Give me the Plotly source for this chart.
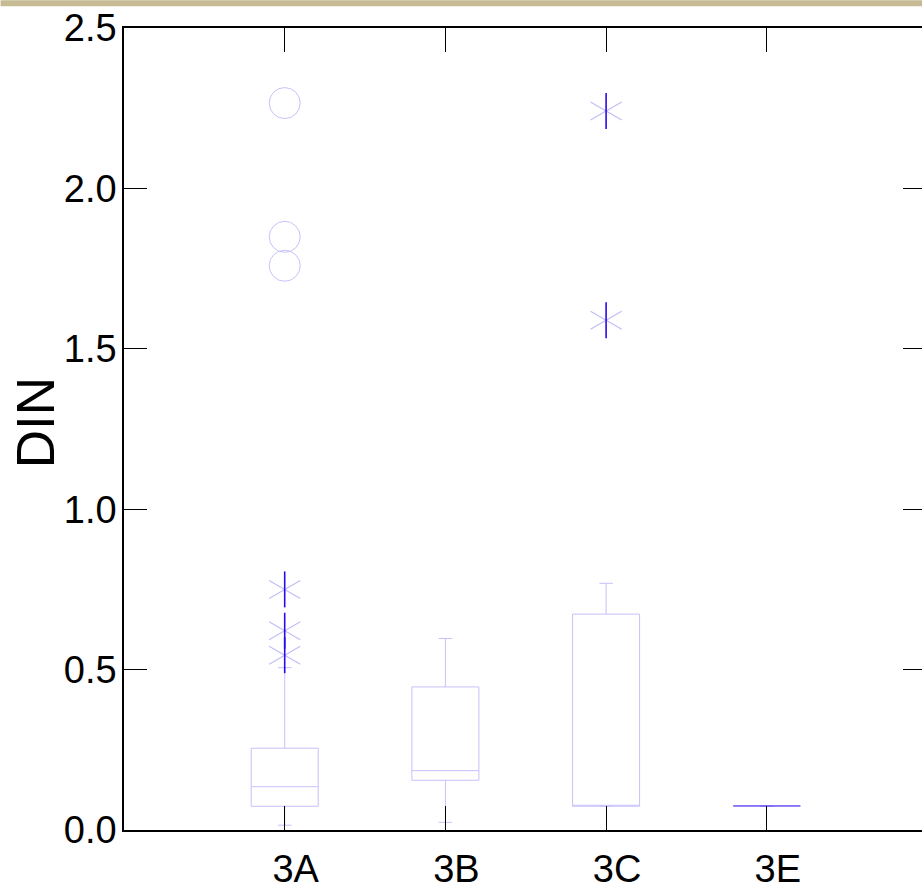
import plotly.graph_objects as go

# ---- data ----
groups = ["3A", "3B", "3C", "3E"]
q1 = [0.074, 0.155, 0.074, 0.075]
median = [0.135, 0.185, 0.074, 0.075]
q3 = [0.255, 0.446, 0.673, 0.075]
lowerfence = [0.015, 0.024, 0.074, 0.075]
upperfence = [0.506, 0.597, 0.769, 0.075]

# outside values (asterisks)
star_groups = ["3A", "3A", "3A", "3C", "3C"]
star_values = [0.750, 0.621, 0.545, 2.241, 1.589]
# far outside values (circles)
circle_groups = ["3A", "3A", "3A"]
circle_values = [2.266, 1.849, 1.759]

y_ticks = [0.0, 0.5, 1.0, 1.5, 2.0, 2.5]
y_ticktext = ["0.0", "0.5", "1.0", "1.5", "2.0", "2.5"]
y_title = "DIN"

box_col = "rgb(198,192,250)"
flat_col = "rgb(125,105,242)"
star_v_col = "rgb(40,10,240)"
star_d_col = "rgb(195,189,248)"
circ_col = "rgb(198,194,250)"

fig = go.Figure()

n_full = 3  # groups with a real box; the last one collapses to a line
fig.add_trace(go.Box(
    x=groups[:n_full], q1=q1[:n_full], median=median[:n_full], q3=q3[:n_full],
    lowerfence=lowerfence[:n_full], upperfence=upperfence[:n_full],
    width=0.417, whiskerwidth=0.2,
    line=dict(color=box_col, width=1),
    fillcolor="rgba(255,255,255,0)",
    boxpoints=False, showlegend=False, hoverinfo="skip",
))
fig.add_trace(go.Box(
    x=groups[n_full:], q1=q1[n_full:], median=median[n_full:], q3=q3[n_full:],
    lowerfence=lowerfence[n_full:], upperfence=upperfence[n_full:],
    width=0.417, whiskerwidth=0.2,
    line=dict(color=flat_col, width=1),
    fillcolor="rgba(255,255,255,0)",
    boxpoints=False, showlegend=False, hoverinfo="skip",
))

# asterisk: two diagonal strokes + vertical stroke (line symbols span 1.4*size)
star_size = 36 / 1.4
for ang in (30, -30):
    fig.add_trace(go.Scatter(
        x=star_groups, y=star_values, mode="markers", showlegend=False,
        hoverinfo="skip",
        marker=dict(symbol="line-ew-open", size=star_size, angle=ang, color=star_d_col,
                    line=dict(color=star_d_col, width=1.2)),
    ))
fig.add_trace(go.Scatter(
    x=star_groups, y=star_values, mode="markers", showlegend=False,
    marker=dict(symbol="line-ns-open", size=star_size, color=star_v_col,
                line=dict(color=star_v_col, width=1.6)),
))
fig.add_trace(go.Scatter(
    x=circle_groups, y=circle_values, mode="markers", showlegend=False,
    marker=dict(symbol="circle-open", size=31, color=circ_col,
                line=dict(color=circ_col, width=1)),
))
# invisible trace to activate right y-axis (tick marks only)
fig.add_trace(go.Scatter(x=[groups[0]], y=[0], yaxis="y2", mode="markers",
                         marker=dict(opacity=0), showlegend=False, hoverinfo="skip"))

W, H = 922, 885
L, T, B = 123.5, 27.7, 55
plot_w = W - L
plot_h = H - T - B

fig.update_layout(
    width=W, height=H,
    margin=dict(l=L, r=0, t=T, b=B, autoexpand=False),
    paper_bgcolor="white", plot_bgcolor="white",
    font=dict(family="Liberation Sans, Arial, sans-serif", color="black"),
    xaxis=dict(
        type="category", categoryorder="array", categoryarray=groups,
        range=[-1, -1 + plot_w / 160.8],
        showline=True, linecolor="black", linewidth=1.5, mirror="ticks",
        ticks="inside", ticklen=24, tickwidth=1, tickcolor="black",
        showgrid=False, zeroline=False,
        tickfont=dict(size=38), ticklabelshift=11, ticklabelstandoff=5,
    ),
    yaxis=dict(
        range=[0, 2.5], tickvals=y_ticks, ticktext=y_ticktext,
        showline=True, linecolor="black", linewidth=1.5,
        ticks="inside", ticklen=23, tickwidth=1, tickcolor="black",
        showgrid=False, zeroline=False,
        tickfont=dict(size=38), ticklabelstandoff=-2,
    ),
    yaxis2=dict(
        overlaying="y", side="right", range=[0, 2.5], tickvals=y_ticks,
        showticklabels=False, showline=False,
        ticks="inside", ticklen=19, tickwidth=1, tickcolor="black",
        showgrid=False, zeroline=False,
    ),
    annotations=[dict(
        text=y_title, textangle=-90, showarrow=False,
        xref="paper", yref="paper",
        x=(34.5 - L) / plot_w, y=(830 - 423) / plot_h,
        xanchor="center", yanchor="middle",
        font=dict(size=53, color="black"),
    )],
    shapes=[dict(
        type="rect", xref="paper", yref="paper",
        x0=-L / plot_w, x1=1.0,
        y0=1 + (T - 6) / plot_h, y1=1 + T / plot_h,
        fillcolor="#c6bb95", line=dict(width=0), layer="above",
    )],
)

fig.write_html("out.html", config={"displayModeBar": False},
               post_script="document.body.style.margin='0px';document.body.style.overflow='hidden';")
